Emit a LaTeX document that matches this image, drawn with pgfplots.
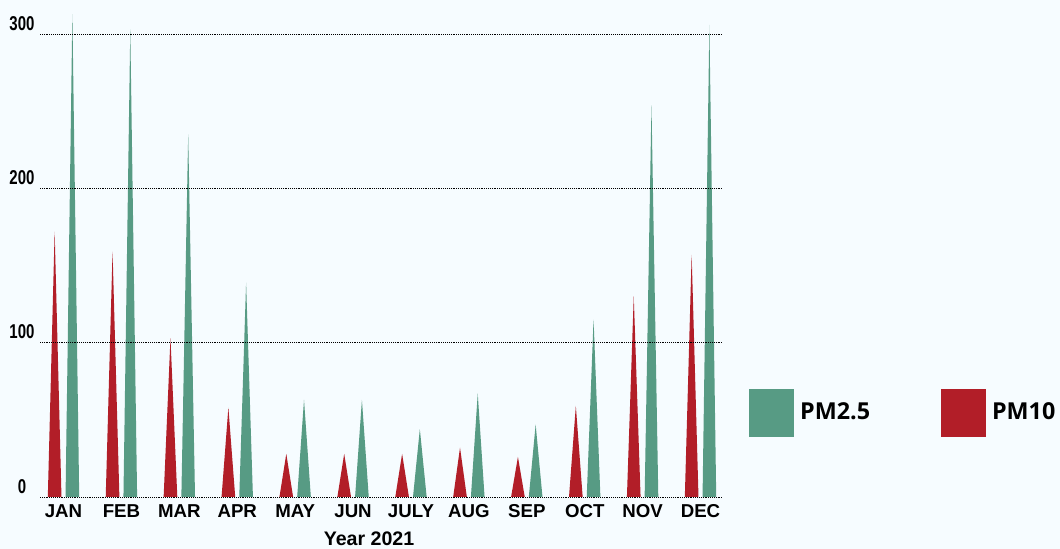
\documentclass[border=0pt]{standalone}
\usepackage{pgfplots}
\pgfplotsset{compat=1.18}
\usepackage{fontspec}
\setmainfont{Liberation Sans}
\newfontfamily\legfont{Open Sans}
\newfontfamily\condfont{Liberation Sans}[FakeStretch=0.75]
\definecolor{pmgreen}{RGB}{87,155,132}
\definecolor{pmred}{RGB}{178,30,40}
\definecolor{bgc}{RGB}{246,252,255}
\begin{document}
\begin{tikzpicture}
\fill[bgc] (0,0) rectangle (795pt,411.75pt);
\path[use as bounding box] (0,0) rectangle (795pt,411.75pt);
\begin{axis}[
  at={(30pt,39pt)}, anchor=south west,
  scale only axis, width=511.5pt, height=370.3pt,
  xmin=-0.406, xmax=11.371, ymin=0, ymax=320,
  axis line style={draw=none},
  major tick length=0pt,
  axis on top,
  unbounded coords=jump,
  ytick={0,100,200,300},
  ymajorgrids, major grid style={black, densely dotted, line width=0.6pt},
  xtick={0,...,11},
  xticklabels={JAN,FEB,MAR,APR,MAY,JUN,JULY,AUG,SEP,OCT,NOV,DEC},
  /pgf/number format/assume math mode=true,
  xticklabel style={font=\fontsize{14}{15}\selectfont\bfseries, inner sep=0pt, anchor=north, yshift=-5.5pt},
  yticklabel style={font=\condfont\fontsize{15}{16}\selectfont\bfseries, inner sep=0pt, anchor=south, xshift=-13.5pt, yshift=2.5pt},
  xlabel={Year 2021},
  xlabel style={font=\fontsize{14.7}{16}\selectfont\bfseries, at={(axis description cs:0.4824,0)}, anchor=north, inner sep=0pt, yshift=-26pt},
  legend columns=2,
  legend style={at={(axis description cs:1.0396,0.1711)}, anchor=west, draw=none, fill=none,
    inner sep=0pt, outer sep=0pt, font=\legfont\fontsize{17.5}{18}\selectfont\bfseries,
    /tikz/every even column/.append style={column sep=51pt}},
]
\addplot[fill=pmgreen, draw=none, forget plot] coordinates {
 (0.035,0) (0.153,313) (0.271,0) (0.3,nan)
 (1.035,0) (1.153,303) (1.271,0) (1.3,nan)
 (2.035,0) (2.153,235) (2.271,0) (2.3,nan)
 (3.035,0) (3.153,139) (3.271,0) (3.3,nan)
 (4.035,0) (4.153,63) (4.271,0) (4.3,nan)
 (5.035,0) (5.153,63) (5.271,0) (5.3,nan)
 (6.035,0) (6.153,44) (6.271,0) (6.3,nan)
 (7.035,0) (7.153,67) (7.271,0) (7.3,nan)
 (8.035,0) (8.153,47) (8.271,0) (8.3,nan)
 (9.035,0) (9.153,115) (9.271,0) (9.3,nan)
 (10.035,0) (10.153,254) (10.271,0) (10.3,nan)
 (11.035,0) (11.153,306) (11.271,0)
};
\addplot[fill=pmred, draw=none, forget plot] coordinates {
 (-0.271,0) (-0.153,172) (-0.035,0) (0,nan)
 (0.729,0) (0.847,159) (0.965,0) (1,nan)
 (1.729,0) (1.847,103) (1.965,0) (2,nan)
 (2.729,0) (2.847,58) (2.965,0) (3,nan)
 (3.729,0) (3.847,28) (3.965,0) (4,nan)
 (4.729,0) (4.847,28) (4.965,0) (5,nan)
 (5.729,0) (5.847,28) (5.965,0) (6,nan)
 (6.729,0) (6.847,32) (6.965,0) (7,nan)
 (7.729,0) (7.847,26) (7.965,0) (8,nan)
 (8.729,0) (8.847,59) (8.965,0) (9,nan)
 (9.729,0) (9.847,130) (9.965,0) (10,nan)
 (10.729,0) (10.847,157) (10.965,0)
};
\addlegendimage{legend image code/.code={\fill[pmgreen] (0pt,-17.6pt) rectangle (33pt,17.6pt); \path (36pt,0pt);}}
\addlegendentry{PM2.5}
\addlegendimage{legend image code/.code={\fill[pmred] (0pt,-17.6pt) rectangle (33pt,17.6pt); \path (36pt,0pt);}}
\addlegendentry{PM10}
\end{axis}
\end{tikzpicture}
\end{document}
